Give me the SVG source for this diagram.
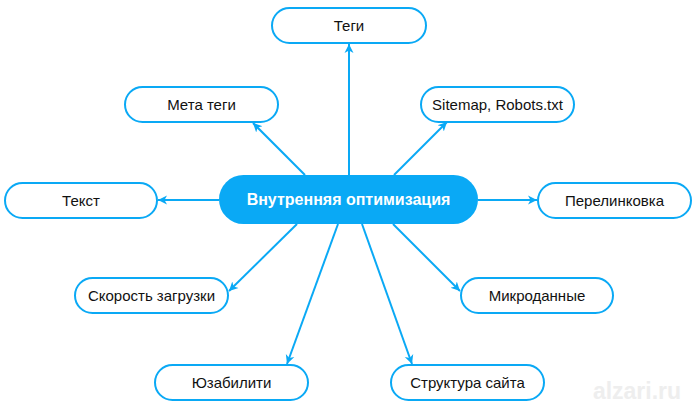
<svg xmlns="http://www.w3.org/2000/svg" width="698" height="409" viewBox="0 0 698 409">
<defs>
<marker id="arr" markerUnits="userSpaceOnUse" markerWidth="10" markerHeight="10" refX="9" refY="5" orient="auto">
<path d="M0,0.5 L9,5 L0,9.5 L2.5,5 Z" fill="#0aa9f5"/>
</marker>
<style>
.node rect{fill:#fff;stroke:#0aa9f5;stroke-width:2}
.node text{font-family:"Liberation Sans",Arial,sans-serif;font-size:15px;fill:#111;text-anchor:middle}
#connectors line{stroke:#0aa9f5;stroke-width:2;marker-end:url(#arr)}
</style>
</defs>
<rect width="698" height="409" fill="#fff"/>
<g id="connectors">
<line x1="349" y1="175" x2="349" y2="44"/>
<line x1="305" y1="175" x2="253" y2="123"/>
<line x1="394" y1="175" x2="447" y2="122"/>
<line x1="219" y1="200" x2="158" y2="200"/>
<line x1="478" y1="200" x2="537" y2="200"/>
<line x1="297" y1="224" x2="229" y2="291"/>
<line x1="338" y1="224" x2="287" y2="364"/>
<line x1="362" y1="224" x2="412" y2="364"/>
<line x1="393" y1="224" x2="460" y2="291"/>
</g>
<g id="center">
<rect x="219" y="175" width="259" height="49" rx="24.5" fill="#0aa9f5"/>
<text x="348.5" y="205" font-family="'Liberation Sans',Arial,sans-serif" font-size="16" font-weight="bold" fill="#fff" text-anchor="middle">Внутренняя оптимизация</text>
</g>
<g id="tegi" class="node"><rect x="272" y="8" width="154" height="35" rx="17.5"/><text x="349" y="31">Теги</text></g>
<g id="meta" class="node"><rect x="125" y="87" width="153" height="35" rx="17.5"/><text x="201.5" y="110">Мета теги</text></g>
<g id="sitemap" class="node"><rect x="421" y="87" width="153" height="35" rx="17.5"/><text x="497.5" y="110">Sitemap, Robots.txt</text></g>
<g id="tekst" class="node"><rect x="5" y="183" width="152" height="35" rx="17.5"/><text x="81" y="206">Текст</text></g>
<g id="perelinkovka" class="node"><rect x="538" y="183" width="153" height="35" rx="17.5"/><text x="614.5" y="206">Перелинковка</text></g>
<g id="skorost" class="node"><rect x="75" y="278" width="153" height="35" rx="17.5"/><text x="151.5" y="301">Скорость загрузки</text></g>
<g id="mikrodannye" class="node"><rect x="461" y="278" width="152" height="35" rx="17.5"/><text x="537" y="301">Микроданные</text></g>
<g id="uzability" class="node"><rect x="155" y="365" width="153" height="35" rx="17.5"/><text x="231.5" y="388">Юзабилити</text></g>
<g id="struktura" class="node"><rect x="391" y="365" width="153" height="35" rx="17.5"/><text x="467.5" y="388">Структура сайта</text></g>
<text x="637" y="399" font-family="'Liberation Sans',Arial,sans-serif" font-size="23" font-weight="bold" fill="#eeeeee" text-anchor="middle">alzari.ru</text>
</svg>
